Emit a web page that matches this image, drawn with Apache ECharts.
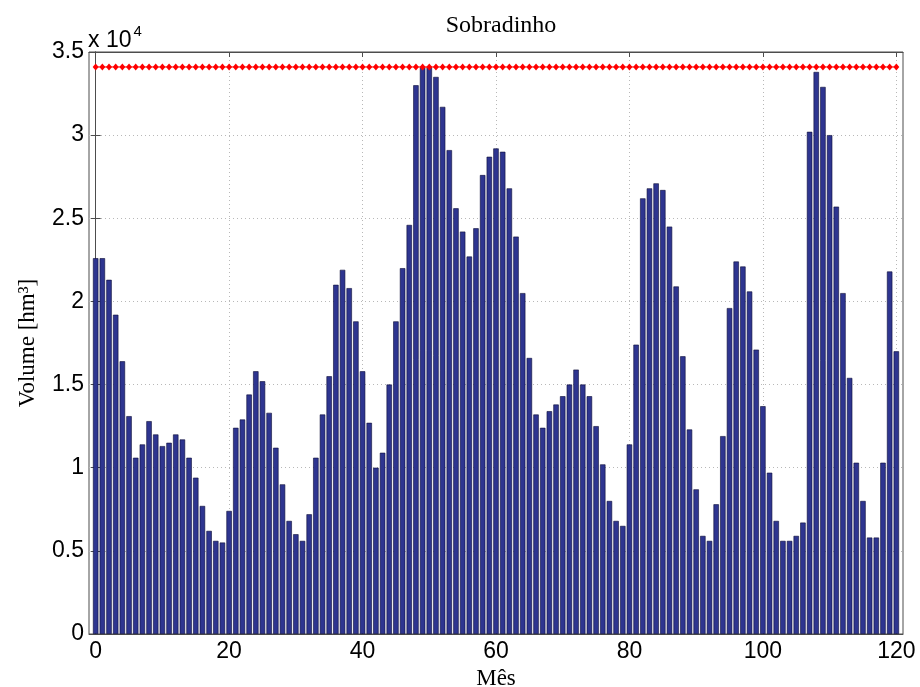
<!DOCTYPE html>
<html>
<head>
<meta charset="utf-8">
<script src="https://cdn.jsdelivr.net/npm/echarts@6/dist/echarts.min.js"></script>
<style>
  html, body { margin: 0; padding: 0; background: #ffffff; }
  #chart { width: 920px; height: 687px; }
</style>
</head>
<body>
<div id="chart"></div>
<script>
// Month index (x) for each bar
const months = [];
for (let m = 0; m <= 120; m++) months.push(m);

// Reservoir volume (hm³) per month
const volume = [
  22600, 22600, 21300, 19200, 16400, 13100, 10600, 11400, 12800, 12000,
  11300, 11500, 12000, 11700, 10600, 9400, 7700, 6200, 5600, 5500,
  7400, 12400, 12900, 14400, 15800, 15200, 13300, 11200, 9000, 6800,
  6000, 5600, 7200, 10600, 13200, 15500, 21000, 21900, 20800, 18800,
  15800, 12700, 10000, 10900, 15000, 18800, 22000, 24600, 33000, 34100,
  34100, 33500, 31700, 29100, 25600, 24200, 22700, 24400, 27600, 28700,
  29200, 29000, 26800, 23900, 20500, 16600, 13200, 12400, 13400, 13800,
  14300, 15000, 15900, 15000, 14300, 12500, 10200, 8000, 6800, 6500,
  11400, 17400, 26200, 26800, 27100, 26700, 24500, 20900, 16700, 12300,
  8700, 5900, 5600, 7800, 11900, 19600, 22400, 22100, 20600, 17100,
  13700, 9700, 6800, 5600, 5600, 5900, 6700, 30200, 33800, 32900,
  30000, 25700, 20500, 15400, 10300, 8000, 5800, 5800, 10300, 21800,
  17000
];

// Maximum volume (red line)
const maxVolume = 34100;

// Tick labels
const xTicks = [0, 20, 40, 60, 80, 100, 120];
const yTicks = [0, 5000, 10000, 15000, 20000, 25000, 30000, 35000];

const barData = months.map((m, i) => [m, volume[i]]);
const lineData = months.map(m => [m, maxVolume]);

const chart = echarts.init(document.getElementById('chart'), null, { renderer: 'canvas' });

const gridLine = { show: true, lineStyle: { color: '#b8b8b8', type: [1, 3], width: 1 } };
const sansFont = 'Liberation Sans, Arial, sans-serif';
const serifFont = 'Liberation Serif, Times New Roman, serif';

chart.setOption({
  animation: false,
  backgroundColor: '#ffffff',
  title: {
    text: 'Sobradinho',
    left: 496, top: 9, textAlign: 'center',
    textStyle: { fontFamily: serifFont, fontSize: 24, fontWeight: 'normal', color: '#000' }
  },
  graphic: [{
    type: 'text', left: 88, top: 24,
    style: {
      text: '{a|x 10}{b|4}',
      rich: {
        a: { fontFamily: sansFont, fontSize: 23, fill: '#000', verticalAlign: 'bottom', lineHeight: 28 },
        b: { fontFamily: sansFont, fontSize: 15, fill: '#000', verticalAlign: 'top', padding: [0, 0, 14, 2], lineHeight: 28 }
      }
    }
  }],
  grid: {
    left: 89, right: 17, top: 52, bottom: 53,
    outerBoundsMode: 'none', containLabel: false,
    show: true, borderColor: '#4d4d4d', borderWidth: 1
  },
  xAxis: [{
    type: 'value', min: -1, max: 121,
    axisLine: { show: true, onZero: false, lineStyle: { color: '#4d4d4d' } },
    axisTick: { show: true, inside: true, length: 5, customValues: xTicks, lineStyle: { color: '#4d4d4d' } },
    axisLabel: { customValues: xTicks, fontFamily: sansFont, fontSize: 23, color: '#000', margin: 6 },
    splitLine: gridLine,
    name: 'Mês', nameLocation: 'middle', nameGap: 29,
    nameTextStyle: { fontFamily: serifFont, fontSize: 23, color: '#000' }
  }, {
    type: 'value', min: -1, max: 121, position: 'top',
    axisLine: { show: true, onZero: false, lineStyle: { color: '#4d4d4d' } },
    axisTick: { show: true, inside: true, length: 5, customValues: xTicks, lineStyle: { color: '#4d4d4d' } },
    axisLabel: { show: false, customValues: xTicks },
    splitLine: { show: false }
  }],
  yAxis: [{
    type: 'value', min: 0, max: 35000, interval: 5000,
    axisLine: { show: true, lineStyle: { color: '#4d4d4d' } },
    axisTick: { show: true, inside: true, length: 5, lineStyle: { color: '#4d4d4d' } },
    axisLabel: {
      fontFamily: sansFont, fontSize: 23, color: '#000', margin: 5,
      formatter: v => yTicks.indexOf(v) >= 0 ? String(v / 10000) : ''
    },
    splitLine: gridLine,
    name: 'Volume [hm³]', nameLocation: 'middle', nameGap: 50, nameRotate: 90,
    nameTextStyle: { fontFamily: serifFont, fontSize: 23, color: '#000' }
  }, {
    type: 'value', min: 0, max: 35000, interval: 5000, position: 'right',
    axisLine: { show: true, lineStyle: { color: '#4d4d4d' } },
    axisTick: { show: true, inside: true, length: 5, lineStyle: { color: '#4d4d4d' } },
    axisLabel: { show: false },
    splitLine: { show: false }
  }],
  series: [{
    type: 'bar',
    data: barData,
    barWidth: 5.4,
    itemStyle: { color: '#2e3590', borderColor: '#0b0b35', borderWidth: 0.6 },
    z: 2
  }, {
    type: 'line',
    data: lineData,
    symbol: 'diamond',
    symbolSize: [6, 7],
    itemStyle: { color: '#ff0000' },
    lineStyle: { color: '#ff0000', width: 1 },
    z: 3
  }]
});
</script>
</body>
</html>
